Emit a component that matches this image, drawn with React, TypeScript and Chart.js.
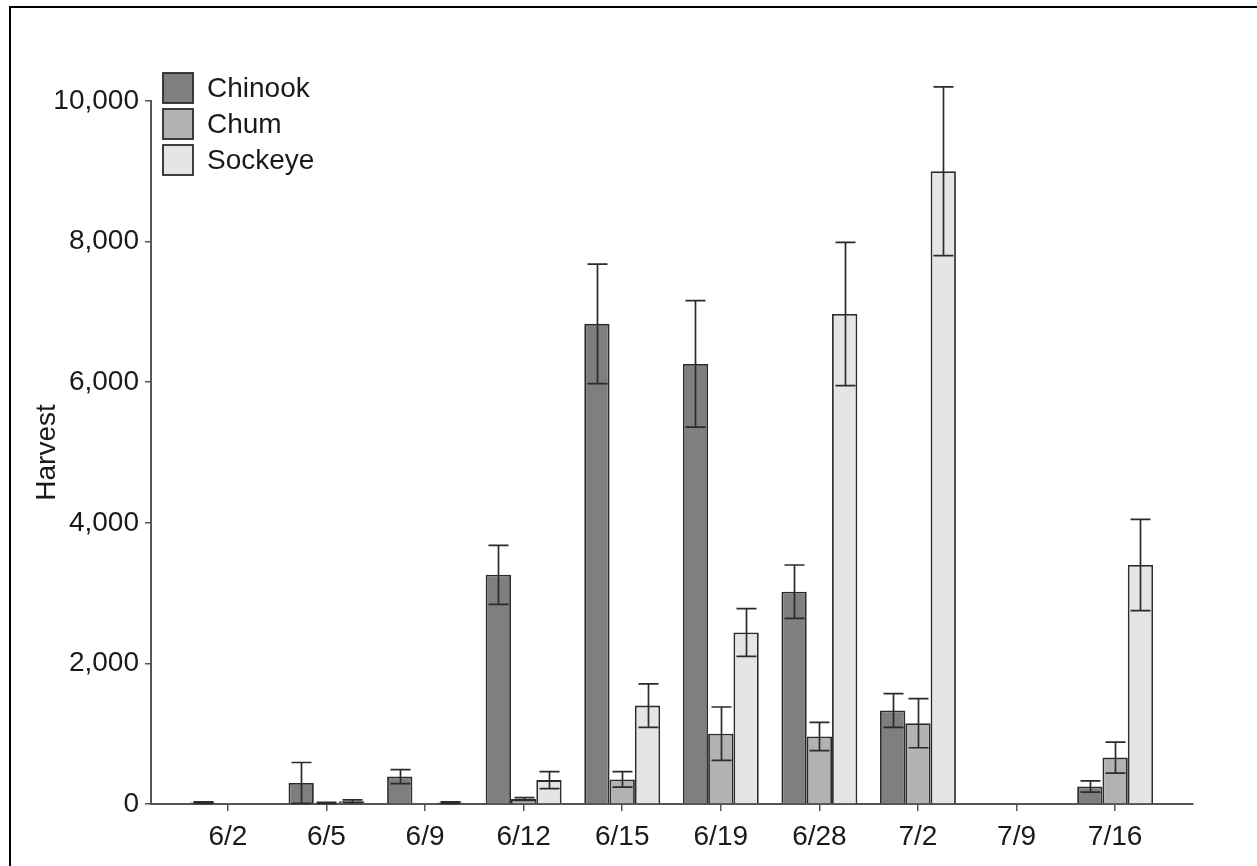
import React, { useEffect, useRef } from "react";
import { Chart, registerables } from "chart.js";

Chart.register(...registerables);

const dates = ["6/2", "6/5", "6/9", "6/12", "6/15", "6/19", "6/28", "7/2", "7/9", "7/16"];
const seriesNames = ["Chinook", "Chum", "Sockeye"];

const chinook = [20, 300, 390, 3260, 6830, 6260, 3020, 1330, 0, 250];
const chum = [0, 15, 5, 70, 350, 1000, 960, 1150, 0, 660];
const sockeye = [0, 40, 20, 340, 1400, 2440, 6970, 9000, 0, 3400];

const chinookErr = [10, 290, 100, 420, 850, 900, 380, 240, 0, 80];
const chumErr = [0, 8, 0, 20, 110, 380, 200, 350, 0, 220];
const sockeyeErr = [0, 20, 10, 120, 310, 340, 1020, 1200, 0, 650];

const yTicks = [0, 2000, 4000, 6000, 8000, 10000];

const fills = ["#7f7f7f", "#b2b2b2", "#e5e5e5"];
const FONT = "'Liberation Sans', Arial, sans-serif";

const seriesValues = [chinook, chum, sockeye];
const seriesErrors = [chinookErr, chumErr, sockeyeErr];

const errorBarPlugin = {
  id: "errorBars",
  afterDatasetsDraw(chart: any) {
    const ctx = chart.ctx;
    const ys = chart.scales.y;
    ctx.save();
    ctx.strokeStyle = "#2b2b2b";
    ctx.lineWidth = 1.7;
    chart.data.datasets.forEach((ds: any, di: number) => {
      const meta = chart.getDatasetMeta(di);
      const errs = seriesErrors[di];
      meta.data.forEach((bar: any, i: number) => {
        const v = seriesValues[di][i];
        const e = errs[i];
        if (!e) return;
        const x = Math.round(bar.x) + 0.5;
        const hi = ys.getPixelForValue(v + e);
        const lo = ys.getPixelForValue(Math.max(0, v - e));
        const cap = 10;
        ctx.beginPath();
        ctx.moveTo(x, hi);
        ctx.lineTo(x, lo);
        ctx.moveTo(x - cap, hi);
        ctx.lineTo(x + cap, hi);
        ctx.moveTo(x - cap, lo);
        ctx.lineTo(x + cap, lo);
        ctx.stroke();
      });
    });
    ctx.restore();
  },
};

const legendPlugin = {
  id: "insideLegend",
  afterDraw(chart: any) {
    const ctx = chart.ctx;
    ctx.save();
    const x0 = 163;
    const rows = [88, 124, 160];
    seriesNames.forEach((name, i) => {
      const cy = rows[i];
      ctx.fillStyle = fills[i];
      ctx.fillRect(x0, cy - 15, 30, 30);
      ctx.strokeStyle = "#2b2b2b";
      ctx.lineWidth = 1.8;
      ctx.strokeRect(x0, cy - 15, 30, 30);
      ctx.fillStyle = "#1a1a1a";
      ctx.font = `28px ${FONT}`;
      ctx.textBaseline = "middle";
      ctx.textAlign = "left";
      ctx.fillText(name, 207, cy + 1);
    });
    ctx.restore();
  },
};

export default function App() {
  const ref = useRef<HTMLCanvasElement>(null);

  useEffect(() => {
    document.body.style.margin = "0";
    const canvas = ref.current!;
    const datasets = seriesNames.map((name, di) => ({
      label: name,
      data: seriesValues[di].map((v, i) => ({ x: i, y: v })),
      backgroundColor: fills[di],
      borderColor: "#2b2b2b",
      borderWidth: 1.8,
      categoryPercentage: 0.77,
      barPercentage: 1.0,
    }));
    const chart = new Chart(canvas, {
      type: "bar",
      data: { datasets },
      plugins: [errorBarPlugin, legendPlugin],
      options: {
        animation: false,
        responsive: false,
        devicePixelRatio: 1,
        layout: { padding: { top: 101, right: 64, left: 0, bottom: 0 } },
        plugins: { legend: { display: false }, tooltip: { enabled: false } },
        scales: {
          x: {
            type: "linear",
            offset: false,
            min: -0.78,
            max: 9.79,
            afterBuildTicks: (scale: any) => {
              scale.ticks = dates.map((_, i) => ({ value: i }));
            },
            afterFit: (scale: any) => {
              scale.height = 62;
            },
            ticks: {
              autoSkip: false,
              maxRotation: 0,
              padding: 9,
              color: "#1a1a1a",
              font: { family: FONT, size: 28 },
              callback: (v: any) => dates[Math.round(Number(v))] ?? "",
            },
            grid: {
              offset: false,
              drawOnChartArea: false,
              drawTicks: true,
              tickLength: 7,
              color: "#555555",
              lineWidth: 1.5,
            },
            border: { display: true, color: "#555555", width: 2 },
          },
          y: {
            min: 0,
            max: 10000,
            afterBuildTicks: (scale: any) => {
              scale.ticks = yTicks.map((v) => ({ value: v }));
            },
            afterFit: (scale: any) => {
              scale.width = 151;
            },
            ticks: {
              padding: 6,
              color: "#1a1a1a",
              font: { family: FONT, size: 28 },
              callback: (v: any) => Number(v).toLocaleString("en-US"),
            },
            grid: {
              drawOnChartArea: false,
              drawTicks: true,
              tickLength: 6,
              color: "#555555",
              lineWidth: 1.5,
            },
            border: { display: true, color: "#555555", width: 2 },
            title: {
              display: true,
              text: "Harvest",
              color: "#1a1a1a",
              font: { family: FONT, size: 28 },
              padding: { top: 30, bottom: 0 },
            },
          },
        },
      },
    } as any);
    return () => chart.destroy();
  }, []);

  return (
    <div style={{ position: "fixed", left: 0, top: 0, width: 1257, height: 866, overflow: "hidden", background: "#fff" }}>
      <canvas ref={ref} width={1257} height={866} style={{ position: "absolute", left: 0, top: 0 }} />
      <div
        style={{
          position: "absolute",
          left: 9,
          top: 6,
          width: 1400,
          height: 1000,
          borderLeft: "2px solid #000",
          borderTop: "2px solid #000",
          pointerEvents: "none",
        }}
      />
    </div>
  );
}
